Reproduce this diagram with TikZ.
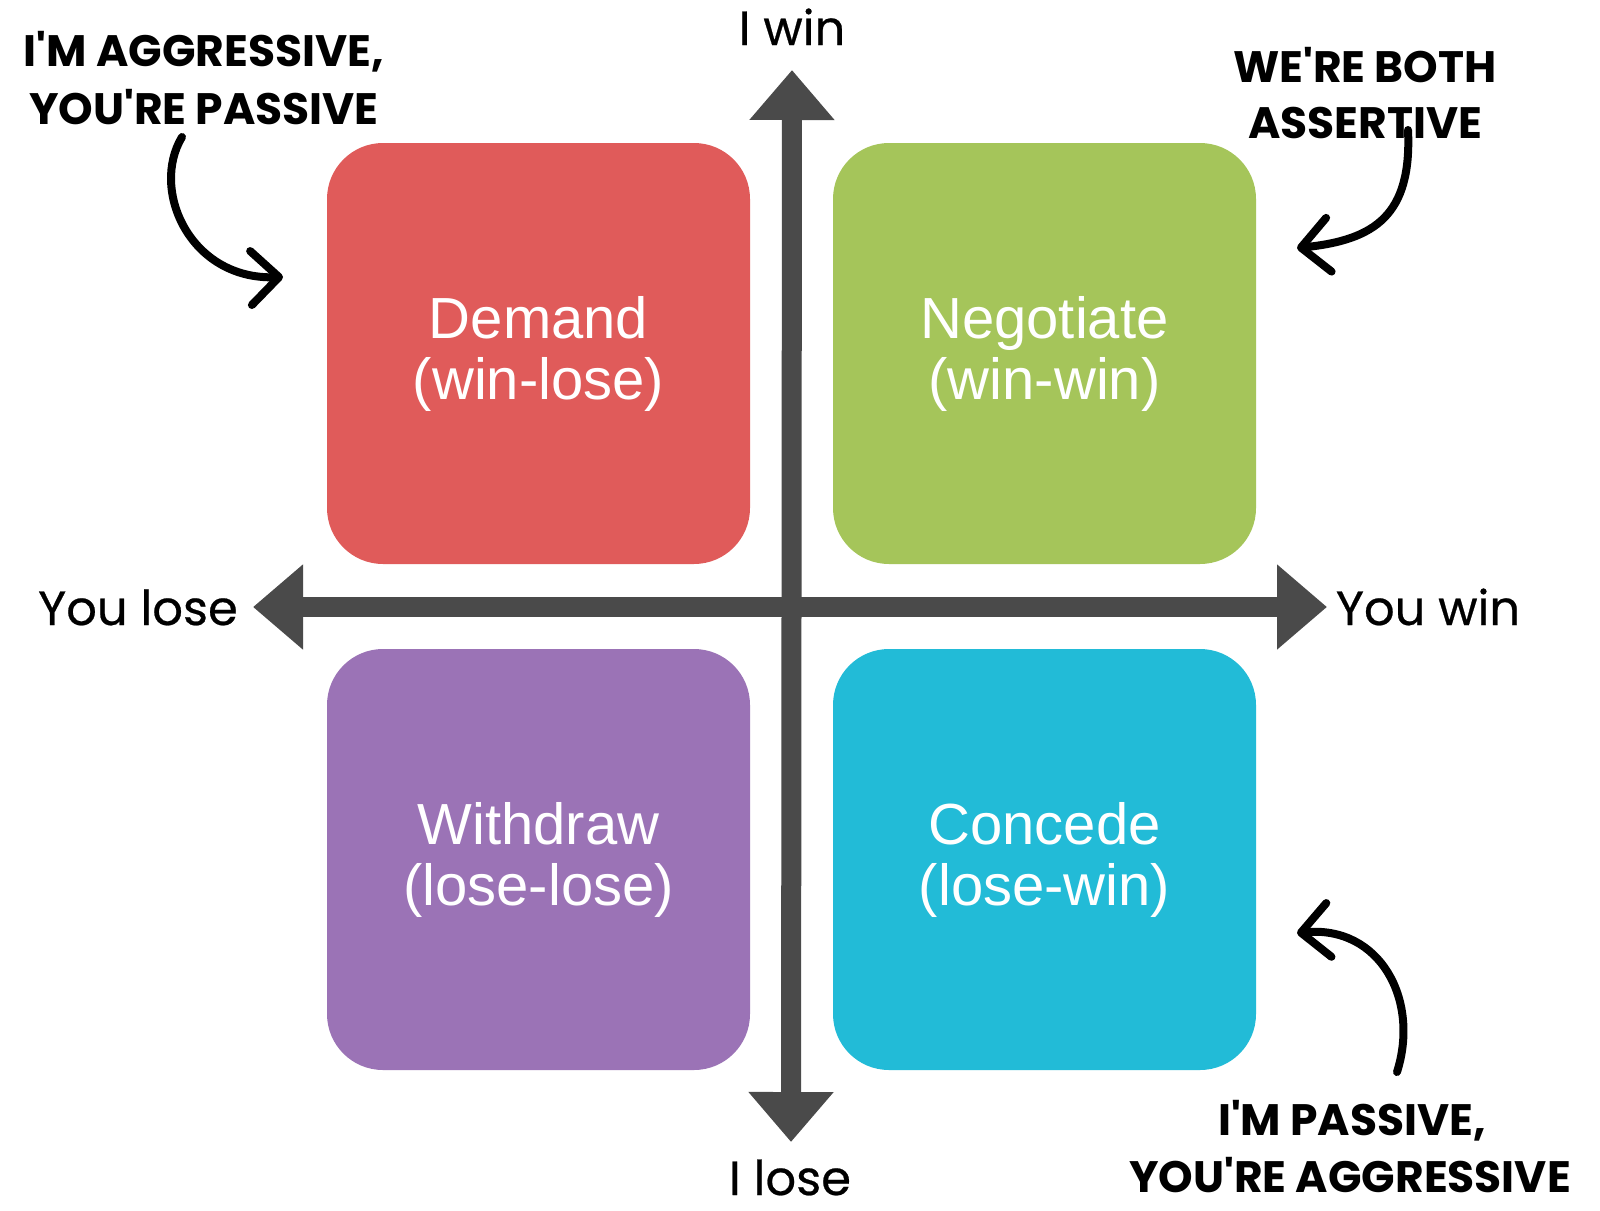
\documentclass[tikz,border=0pt]{standalone}
\usepackage{fontspec}
\setmainfont{Liberation Sans}
\newfontfamily\axisfont{Poppins}[FakeBold=0.5]
\newfontfamily\handfont{Poppins}
\usetikzlibrary{arrows.meta}
\definecolor{cred}{HTML}{E05B5A}
\definecolor{cgreen}{HTML}{A5C55A}
\definecolor{cpurple}{HTML}{9B73B6}
\definecolor{ccyan}{HTML}{22BBD7}
\definecolor{axisgray}{HTML}{4A4A4A}
\tikzset{
  quad/.style={rounded corners=28pt, minimum width=211.5pt, minimum height=210.5pt,
    inner sep=0pt, align=center, text=white, font=\fontsize{29}{30.5}\selectfont},
  axislbl/.style={anchor=base, inner sep=0pt, text depth=0pt, text=black, font=\axisfont\fontsize{24}{28}\selectfont},
  hand/.style={anchor=base, inner sep=0pt, text=black, font=\handfont\bfseries\fontsize{22}{26}\selectfont},
  axisline/.style={draw=axisgray, line width=10pt,
    {Triangle[width=41pt,length=25pt]}-{Triangle[width=41pt,length=25pt]}},
  curly/.style={draw=black, line width=4pt, line cap=round,
    -{Straight Barb[length=14pt,width=27pt,round]}}
}
\begin{document}
\begin{tikzpicture}[x=0.5pt,y=-0.5pt]
\useasboundingbox[fill=white] (0,0) rectangle (1600,1210);

% quadrants
\node[quad, fill=cred]    (demand)    at (538.5,353.5) {Demand\\(win-lose)};
\node[quad, fill=cgreen]  (negotiate) at (1044.5,353.5) {Negotiate\\(win-win)};
\node[quad, fill=cpurple] (withdraw)  at (538.5,859.5) {Withdraw\\(lose-lose)};
\node[quad, fill=ccyan]   (concede)   at (1044.5,859.5) {Concede\\(lose-win)};

% axes
\coordinate (ytop) at (792,70);
\coordinate (ybot) at (791,1142);
\coordinate (xl) at (253,607);
\coordinate (xr) at (1327,607);
\draw[axisline] (ybot) -- (ytop);
\draw[axisline] (xl) -- (xr);

% axis labels
\node[axislbl] (iwin)    at (792,45)   {I win};
\node[axislbl] (ilose)   at (790,1195) {I lose};
\node[axislbl] (youlose) at (138,625)  {You lose};
\node[axislbl] (youwin)  at (1428,625) {You win};

% annotations
\node[hand] (tl1) at (204,66)   {I'M AGGRESSIVE,};
\node[hand] (tl2) at (204,124)  {YOU'RE PASSIVE};
\node[hand] (tr1) at (1365,82)  {WE'RE BOTH};
\node[hand] (tr2) at (1365,138) {ASSERTIVE};
\node[hand] (br1) at (1352,1135) {I'M PASSIVE,};
\node[hand] (br2) at (1350,1192) {YOU'RE AGGRESSIVE};

% curly arrows
\coordinate (tls) at (182,137);
\coordinate (tle) at (283,277);
\coordinate (trs) at (1408,130);
\coordinate (tre) at (1297,248);
\coordinate (brs) at (1397,1072);
\coordinate (bre) at (1297,933);
\draw[curly] (tls) .. controls (150,190) and (190,280) .. (tle);
\draw[curly] (trs) .. controls (1412,215) and (1375,240) .. (tre);
\draw[curly] (brs) .. controls (1420,1000) and (1380,925) .. (bre);
\end{tikzpicture}
\end{document}
